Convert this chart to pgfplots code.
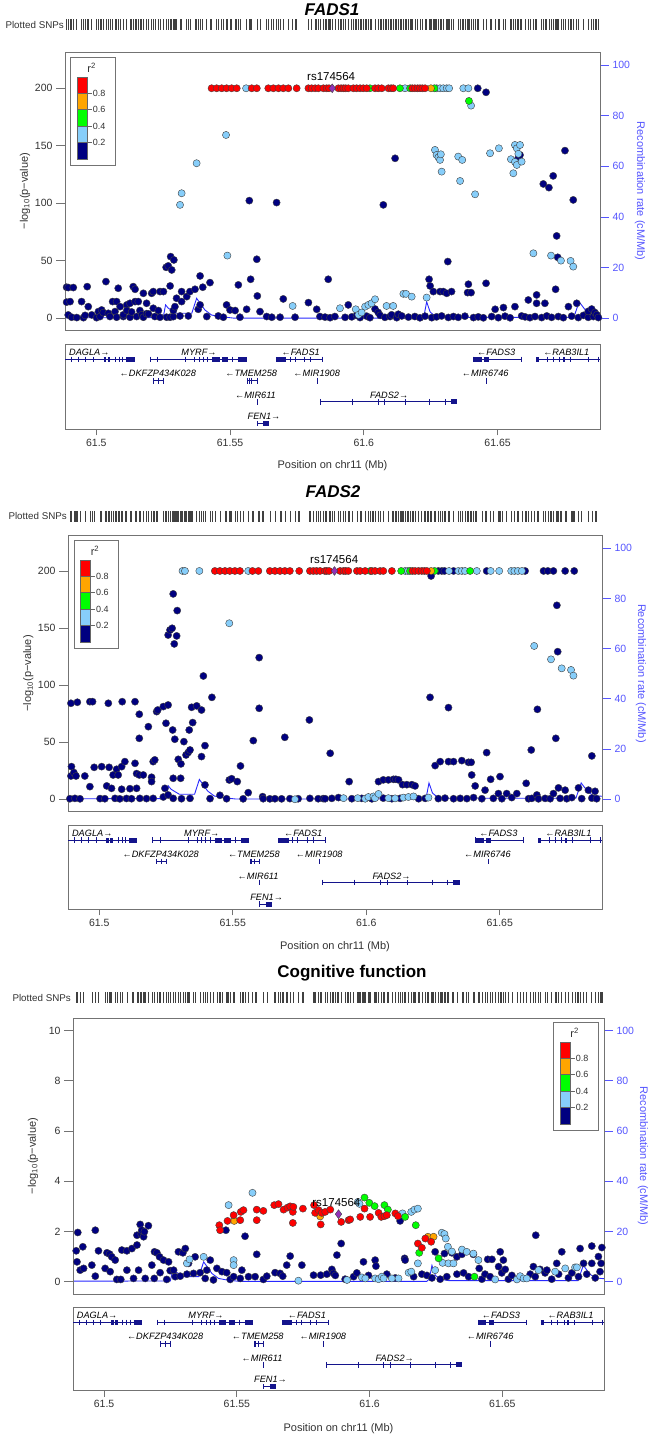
\documentclass[border=0pt]{standalone}
\usepackage{fontspec}
\setmainfont{Liberation Sans}
\usepackage{pgfplots}
\usepackage{pgfplotstable}
\pgfplotsset{compat=1.18}

\definecolor{ldnavy}{RGB}{0,0,128}
\definecolor{ldblue}{RGB}{135,206,250}
\definecolor{ldgreen}{RGB}{0,255,0}
\definecolor{ldorange}{RGB}{255,165,0}
\definecolor{ldred}{RGB}{255,0,0}
\definecolor{leadpurple}{RGB}{145,50,185}
\definecolor{recblue}{RGB}{40,40,255}
\definecolor{raxis}{RGB}{85,85,255}
\definecolor{framegray}{RGB}{115,115,115}
\definecolor{genecol}{RGB}{20,20,140}
\definecolor{ticktext}{RGB}{50,50,50}

\pgfplotsset{
  locus/.style={scale only axis, xmin=61.4883, xmax=61.6883,
    /pgf/number format/assume math mode=true},
  assoc/.style={locus, clip mode=individual,
    axis line style={framegray, line width=0.9pt},
    xtick=\empty, ytick pos=left, tick align=outside, major tick length=9pt,
    every tick/.style={framegray, line width=0.8pt},
    yticklabel style={font=\fontsize{10.5}{12}\selectfont, text=ticktext}},
  recomb/.style={locus, hide x axis, axis y line*=right,
    y axis line style={draw=none},
    ytick={0,20,...,100}, tick align=outside, major tick length=9pt,
    every tick/.style={raxis, line width=0.8pt},
    yticklabel style={font=\fontsize{10.5}{12}\selectfont, text=raxis}},
  genes/.style={locus, clip mode=individual, ymin=0, y dir=reverse,
    axis line style={framegray, line width=0.9pt},
    ytick=\empty, xtick={61.5,61.55,61.6,61.65},
    xticklabels={61.5,61.55,61.6,61.65}, xtick pos=bottom,
    tick align=outside, major tick length=6pt,
    every tick/.style={framegray, line width=0.8pt},
    xticklabel style={font=\fontsize{10.5}{12}\selectfont, text=ticktext}},
  rug/.style={locus, hide axis, ymin=-1, ymax=1, height=12pt},
  snp/.style={only marks, mark=*, mark size=3.6pt,
    mark options={draw=black!75, line width=0.4pt, fill=#1}},
  lead/.style={only marks, mark=diamond*, mark size=4.4pt,
    mark options={draw=black!75, line width=0.4pt, fill=leadpurple}},
  rugmark/.style={only marks, mark=|, mark size=5.5pt,
    mark options={line width=0.6pt, draw=black!75}},
  gline/.style={genecol, line width=0.8pt, forget plot},
  gblock/.style={genecol, line width=5pt, line cap=butt, forget plot},
  gexon/.style={genecol, only marks, mark=|, mark size=2.8pt,
    mark options={line width=1pt}, forget plot},
}
\tikzset{glabel/.style={font=\fontsize{9.2}{10}\selectfont\itshape, inner sep=0pt},
  snplabel/.style={font=\fontsize{11.5}{12}\selectfont, yshift=11.5pt}}

% recombination rate (cM/Mb), shared by all three regions
\pgfplotstableread{
pos rate
61.4883 0.2
61.5250 0.3
61.5259 5.3
61.5269 4.0
61.5300 2.0
61.5357 2.0
61.5375 7.9
61.5388 6.0
61.5406 3.3
61.5431 1.3
61.5462 0.7
61.5512 0.1
61.6215 0.1
61.6225 1.0
61.6235 6.5
61.6248 2.5
61.6265 1.0
61.6300 0.4
61.6785 0.4
61.6805 6.5
61.6830 3.0
61.6850 1.5
61.6883 1.2
}\recomb

% ---------------- FADS1 ----------------
\pgfplotstableread{
pos v
61.4889 27.0
61.4889 14.0
61.4895 26.7
61.4902 14.5
61.4895 2.9
61.4908 0.9
61.4914 26.7
61.4927 0.6
61.4945 14.5
61.4952 0.5
61.4958 2.5
61.4966 27.5
61.4970 10.1
61.4983 2.9
61.5001 0.5
61.5008 5.8
61.5014 1.5
61.5020 7.2
61.5026 4.9
61.5036 31.9
61.5045 4.3
61.5051 1.5
61.5061 14.5
61.5070 5.8
61.5076 14.5
61.5076 0.9
61.5082 26.1
61.5089 10.1
61.5101 1.5
61.5101 3.0
61.5114 11.6
61.5114 6.7
61.5126 13.0
61.5126 0.9
61.5132 5.5
61.5138 27.5
61.5145 25.2
61.5145 14.5
61.5151 1.5
61.5157 14.5
61.5163 6.7
61.5170 3.0
61.5176 21.7
61.5176 0.9
61.5188 13.0
61.5188 4.0
61.5195 3.8
61.5207 21.7
61.5213 23.2
61.5213 8.7
61.5219 1.5
61.5232 6.7
61.5238 23.2
61.5238 0.9
61.5251 23.2
61.5261 44.3
61.5263 0.9
61.5269 45.5
61.5276 28.1
61.5276 0.9
61.5278 53.6
61.5282 42.0
61.5288 1.4
61.5288 6.7
61.5290 50.7
61.5294 10.1
61.5300 17.4
61.5313 2.0
61.5319 23.2
61.5319 14.5
61.5338 18.8
61.5344 2.0
61.5350 23.2
61.5369 25.2
61.5381 7.8
61.5388 36.8
61.5388 11.6
61.5398 27.0
61.5413 1.5
61.5425 31.0
61.5456 2.0
61.5475 0.9
61.5487 11.6
61.5500 7.2
61.5519 6.7
61.5531 29.0
61.5537 0.9
61.5562 7.8
61.5572 102.3
61.5577 33.9
61.5600 51.3
61.5602 19.4
61.5612 5.8
61.5637 1.5
61.5656 0.9
61.5674 100.6
61.5687 0.9
61.5699 16.8
61.5743 0.9
61.5793 13.6
61.5824 7.8
61.5836 1.5
61.5855 1.0
61.5867 33.9
61.5874 0.5
61.5892 1.5
61.5930 0.8
61.5942 11.6
61.5955 1.2
61.5973 2.5
61.5986 0.6
61.6011 1.8
61.6023 0.5
61.6042 8.0
61.6054 5.0
61.6061 2.5
61.6073 98.6
61.6079 0.8
61.6098 1.5
61.6104 3.0
61.6117 139.1
61.6123 0.5
61.6129 3.5
61.6142 2.0
61.6167 1.0
61.6191 1.5
61.6210 0.4
61.6229 1.8
61.6244 33.9
61.6248 28.1
61.6254 0.5
61.6260 23.2
61.6272 1.2
61.6285 23.2
61.6291 2.0
61.6297 23.2
61.6310 21.7
61.6314 49.3
61.6316 0.7
61.6328 23.2
61.6335 1.5
61.6353 0.8
61.6378 1.8
61.6388 22.3
61.6391 29.6
61.6401 22.3
61.6410 0.6
61.6426 200
61.6428 1.2
61.6447 0.4
61.6457 196.5
61.6457 30.4
61.6478 1.5
61.6491 7.8
61.6503 0.5
61.6522 9.3
61.6528 1.8
61.6547 0.4
61.6565 10.1
61.6577 139.1
61.6584 142.0
61.6590 2.0
61.6603 1.2
61.6615 15.9
61.6621 0.5
61.6640 1.5
61.6646 20.3
61.6646 13.0
61.6665 0.6
61.6671 116.8
61.6677 13.0
61.6684 2.0
61.6692 113.6
61.6702 0.8
61.6708 123.8
61.6717 25.2
61.6721 71.6
61.6725 53.0
61.6727 1.5
61.6746 0.5
61.6752 145.8
61.6765 10.1
61.6777 1.8
61.6783 102.9
61.6796 13.0
61.6802 0.6
61.6821 2.5
61.6839 0.8
61.6839 6.0
61.6852 8.0
61.6858 1.5
61.6864 5.0
61.6871 3.0
61.6877 0.6
}\Anavy
\pgfplotstableread{
pos v
61.5313 98.6
61.5319 108.7
61.5375 134.8
61.5485 159.4
61.5490 54.5
61.5560 200
61.5734 10.7
61.5911 8.7
61.5970 7.8
61.5980 3.0
61.5992 5.0
61.6005 10.1
61.6017 11.6
61.6029 13.0
61.6042 16.5
61.6085 10.7
61.6110 10.7
61.6148 21.2
61.6154 200
61.6158 21.2
61.6179 18.8
61.6235 18.0
61.6266 146.4
61.6272 142.0
61.6272 200
61.6279 140.0
61.6285 137.7
61.6285 200
61.6288 142.6
61.6291 127.5
61.6297 200
61.6310 200
61.6319 200
61.6353 140.6
61.6360 119.4
61.6368 137.7
61.6372 200
61.6391 200
61.6401 184.9
61.6416 107.8
61.6472 143.5
61.6505 147.8
61.6550 138.3
61.6559 126.1
61.6565 150.7
61.6565 136.0
61.6572 147.8
61.6572 133.3
61.6578 143.0
61.6584 150.7
61.6590 136.2
61.6634 56.5
61.6700 54.5
61.6737 50.1
61.6773 49.9
61.6783 44.9
}\Ablue
\pgfplotstableread{
pos v
61.6023 200
61.6135 200
61.6173 200
61.6264 200
61.6393 189
}\Agreen
\pgfplotstableread{
pos v
61.6251 200
}\Aorange
\pgfplotstableread{
pos v
61.5431 200
61.5450 200
61.5469 200
61.5487 200
61.5506 200
61.5525 200
61.5581 200
61.5600 200
61.5643 200
61.5662 200
61.5681 200
61.5699 200
61.5718 200
61.5749 200
61.5793 200
61.5805 200
61.5818 200
61.5830 200
61.5849 200
61.5861 200
61.5870 200
61.5905 200
61.5915 200
61.5924 200
61.5932 200
61.5942 200
61.5961 200
61.5973 200
61.5986 200
61.5998 200
61.6011 200
61.6042 200
61.6054 200
61.6067 200
61.6092 200
61.6102 200
61.6110 200
61.6181 200
61.6191 200
61.6201 200
61.6210 200
61.6219 200
61.6229 200
}\Ared
\pgfplotstableread{
pos v
61.5882 200
}\Alead

% ---------------- FADS2 ----------------
\pgfplotstableread{
pos v
61.4890 0.5
61.4894 84.1
61.4894 20.4
61.4896 28.6
61.4905 23.4
61.4909 0.8
61.4913 20.4
61.4918 85.0
61.4928 0.4
61.4946 20.4
61.4965 85.5
61.4965 11.1
61.4975 85.5
61.4981 28.0
61.5003 0.6
61.5009 28.6
61.5021 0.5
61.5028 11.7
61.5034 84.1
61.5037 28.0
61.5046 9.6
61.5052 21.3
61.5059 0.8
61.5065 26.3
61.5071 21.3
61.5077 0.4
61.5084 28.6
61.5084 8.8
61.5086 85.5
61.5096 33.0
61.5102 0.7
61.5115 9.3
61.5121 0.5
61.5134 85.5
61.5134 31.5
61.5140 22.5
61.5140 9.6
61.5150 74.5
61.5150 53.4
61.5150 21.3
61.5152 0.8
61.5165 21.3
61.5177 0.6
61.5184 63.6
61.5196 19.3
61.5196 15.5
61.5202 33.0
61.5202 0.8
61.5208 34.5
61.5215 76.8
61.5219 78.2
61.5240 81.2
61.5240 2.0
61.5246 9.6
61.5250 66.6
61.5258 82.6
61.5258 143.9
61.5258 3.8
61.5265 148.3
61.5273 149.8
61.5275 60.7
61.5277 179.9
61.5277 18.4
61.5277 0.8
61.5281 136.1
61.5283 52.6
61.5290 143.1
61.5292 165.3
61.5296 35.0
61.5305 18.4
61.5306 31.0
61.5308 0.5
61.5317 50.5
61.5325 38.8
61.5333 41.0
61.5337 60.7
61.5340 43.2
61.5340 0.8
61.5346 80.6
61.5350 67.2
61.5365 81.8
61.5383 78.2
61.5383 37.4
61.5390 108.0
61.5396 47.0
61.5396 12.6
61.5415 0.6
61.5422 89.3
61.5452 3.5
61.5477 0.5
61.5487 16.9
61.5496 18.0
61.5517 15.5
61.5529 29.2
61.5539 0.4
61.5558 5.8
61.5577 51.4
61.5599 79.7
61.5599 124.1
61.5612 2.3
61.5614 0.5
61.5639 0.4
61.5658 0.5
61.5683 0.4
61.5695 54.3
61.5714 0.6
61.5745 0.5
61.5787 69.5
61.5789 0.8
61.5820 0.5
61.5839 0.6
61.5846 0.5
61.5865 40.3
61.5871 0.8
61.5896 1.5
61.5936 15.5
61.5946 0.5
61.5983 0.8
61.6021 0.4
61.6046 15.5
61.6064 17.0
61.6064 1.0
61.6083 17.0
61.6096 0.5
61.6102 17.5
61.6111 17.5
61.6121 17.0
61.6127 0.8
61.6136 12.8
61.6152 12.8
61.6171 12.8
61.6183 11.7
61.6196 0.5
61.6221 0.8
61.6239 89.3
61.6243 195.6
61.6258 29.5
61.6270 200
61.6270 0.6
61.6277 33.0
61.6283 200
61.6293 200
61.6295 1.0
61.6308 80.3
61.6308 33.0
61.6327 200
61.6327 33.0
61.6327 0.5
61.6352 0.8
61.6358 33.9
61.6377 0.6
61.6383 32.4
61.6393 32.4
61.6395 21.3
61.6402 1.5
61.6408 11.7
61.6433 0.5
61.6445 8.0
61.6451 200
61.6451 40.9
61.6466 17.5
61.6476 0.8
61.6495 5.0
61.6501 19.9
61.6508 0.5
61.6526 5.0
61.6545 1.5
61.6564 5.0
61.6595 200
61.6599 14.0
61.6608 0.5
61.6618 43.2
61.6620 0.8
61.6639 3.8
61.6641 78.8
61.6645 0.4
61.6664 200
61.6670 0.8
61.6680 200
61.6689 0.5
61.6701 200
61.6701 5.0
61.6710 53.4
61.6714 169.9
61.6717 129.3
61.6720 10.0
61.6726 0.8
61.6745 200
61.6745 8.0
61.6751 0.5
61.6770 1.5
61.6779 200
61.6795 10.0
61.6807 0.6
61.6832 8.0
61.6845 38.0
61.6845 1.0
61.6857 7.0
61.6863 0.5
}\Bnavy
\pgfplotstableread{
pos v
61.5312 200
61.5321 200
61.5375 200
61.5487 154.2
61.5558 200
61.5733 0.0
61.5915 1.0
61.5968 1.0
61.5996 0.5
61.6008 2.0
61.6027 2.5
61.6033 1.0
61.6046 4.7
61.6083 1.0
61.6108 0.8
61.6139 1.5
61.6146 200
61.6156 200
61.6158 2.0
61.6177 2.5
61.6233 1.5
61.6310 200
61.6345 200
61.6358 200
61.6370 200
61.6414 200
61.6466 200
61.6498 200
61.6543 200
61.6555 200
61.6568 200
61.6583 200
61.6629 134.3
61.6692 122.6
61.6732 114.7
61.6767 113.3
61.6776 108.3
}\Bblue
\pgfplotstableread{
pos v
61.6015 200
61.6131 200
61.6164 200
61.6256 200
61.6389 200
}\Bgreen
\pgfplotstableread{
pos v
61.6243 200
}\Borange
\pgfplotstableread{
pos v
61.5433 200
61.5452 200
61.5471 200
61.5489 200
61.5508 200
61.5527 200
61.5574 200
61.5596 200
61.5639 200
61.5658 200
61.5677 200
61.5695 200
61.5714 200
61.5749 200
61.5789 200
61.5802 200
61.5814 200
61.5827 200
61.5845 200
61.5852 200
61.5861 200
61.5902 200
61.5915 200
61.5923 200
61.5933 200
61.5965 200
61.5977 200
61.5996 200
61.6021 200
61.6033 200
61.6052 200
61.6064 200
61.6096 200
61.6173 200
61.6183 200
61.6196 200
61.6208 200
61.6218 200
61.6227 200
}\Bred
\pgfplotstableread{
pos v
61.5881 200
}\Blead

% ---------------- Cognitive function ----------------
\pgfplotstableread{
pos v
61.4895 1.23
61.4898 0.79
61.4901 1.96
61.4910 0.46
61.4920 1.39
61.4923 0.53
61.4954 0.66
61.4967 2.05
61.4967 0.22
61.4979 1.23
61.5004 0.53
61.5011 1.15
61.5021 1.10
61.5023 0.40
61.5029 0.99
61.5042 0.86
61.5048 0.09
61.5063 0.09
61.5067 1.26
61.5086 1.23
61.5086 0.46
61.5105 1.32
61.5111 0.13
61.5124 1.46
61.5124 1.85
61.5130 0.46
61.5136 2.28
61.5140 1.90
61.5142 2.05
61.5149 1.79
61.5152 1.99
61.5155 0.13
61.5167 2.23
61.5180 0.66
61.5189 0.13
61.5190 1.19
61.5199 1.15
61.5209 0.99
61.5211 0.36
61.5224 0.86
61.5236 0.09
61.5243 0.79
61.5249 0.44
61.5262 0.46
61.5268 0.20
61.5280 1.19
61.5287 0.22
61.5297 1.15
61.5306 1.32
61.5312 0.30
61.5318 0.73
61.5337 0.33
61.5343 0.99
61.5362 0.36
61.5381 0.13
61.5387 0.46
61.5400 0.86
61.5412 0.07
61.5425 0.53
61.5444 0.40
61.5459 2.05
61.5462 0.36
61.5475 0.09
61.5488 0.20
61.5513 0.13
61.5519 0.46
61.5531 1.81
61.5544 0.20
61.5569 0.20
61.5575 1.09
61.5600 0.09
61.5613 0.22
61.5644 0.36
61.5663 0.33
61.5673 0.22
61.5688 0.66
61.5701 1.02
61.5745 0.66
61.5789 0.26
61.5816 0.26
61.5839 0.30
61.5858 0.49
61.5864 0.33
61.5871 0.25
61.5877 1.06
61.5893 1.52
61.5908 0.10
61.5940 0.20
61.5952 0.35
61.5977 0.79
61.5996 0.25
61.6021 0.86
61.6024 0.62
61.6065 0.30
61.6097 0.15
61.6115 2.42
61.6132 0.93
61.6134 0.86
61.6166 0.20
61.6197 0.30
61.6216 0.25
61.6235 0.15
61.6247 1.19
61.6266 0.10
61.6282 1.12
61.6291 0.20
61.6310 1.15
61.6329 0.99
61.6329 0.30
61.6348 1.09
61.6354 0.35
61.6373 0.20
61.6391 1.09
61.6413 0.53
61.6423 0.10
61.6435 0.30
61.6445 0.89
61.6454 0.20
61.6461 0.89
61.6486 0.60
61.6492 1.19
61.6498 0.35
61.6504 0.86
61.6511 0.49
61.6523 0.10
61.6536 0.25
61.6605 0.30
61.6617 0.60
61.6624 0.20
61.6626 1.85
61.6642 0.49
61.6661 0.35
61.6668 0.46
61.6686 0.10
61.6705 0.73
61.6712 0.30
61.6724 1.19
61.6749 0.15
61.6762 0.35
61.6787 0.20
61.6793 1.32
61.6806 0.73
61.6818 0.30
61.6837 1.42
61.6837 0.73
61.6850 0.15
61.6862 1.00
61.6868 0.40
61.6872 0.73
61.6875 1.36
}\Cnavy
\pgfplotstableread{
pos v
61.5312 0.73
61.5322 0.89
61.5375 0.99
61.5469 3.05
61.5488 0.86
61.5488 0.66
61.5559 3.54
61.5732 0.04
61.5915 0.07
61.5956 3.18
61.5962 3.10
61.5971 0.17
61.5984 0.13
61.6021 0.13
61.6034 0.10
61.6046 0.20
61.6053 0.13
61.6084 0.13
61.6109 0.13
61.6124 2.72
61.6147 0.36
61.6157 2.78
61.6157 0.40
61.6169 2.87
61.6182 2.91
61.6182 0.73
61.6247 0.46
61.6272 1.95
61.6275 0.75
61.6282 1.90
61.6287 1.72
61.6295 1.39
61.6297 0.73
61.6310 1.20
61.6316 0.73
61.6348 1.28
61.6366 1.19
61.6391 1.12
61.6410 0.86
61.6473 0.09
61.6555 0.09
61.6567 0.22
61.6580 0.13
61.6592 0.13
61.6636 0.46
61.6699 0.40
61.6737 0.53
61.6774 0.57
61.6781 0.57
}\Cblue
\pgfplotstableread{
pos v
61.5981 3.35
61.5999 3.14
61.6019 3.01
61.6056 3.05
61.6069 2.87
61.6134 2.58
61.6174 2.25
61.6187 1.15
61.6260 0.93
61.6395 0.20
}\Cgreen
\pgfplotstableread{
pos v
61.5490 2.42
61.5814 2.60
61.6220 1.79
61.6241 1.79
}\Corange
\pgfplotstableread{
pos v
61.5434 2.25
61.5437 2.05
61.5465 2.42
61.5488 2.65
61.5513 2.45
61.5515 2.78
61.5525 2.85
61.5575 2.87
61.5575 2.45
61.5600 2.82
61.5641 3.05
61.5657 3.09
61.5676 2.87
61.5691 2.95
61.5701 3.00
61.5711 2.78
61.5713 2.98
61.5711 2.34
61.5749 2.91
61.5791 3.05
61.5795 2.74
61.5808 2.85
61.5820 2.74
61.5816 2.28
61.5833 2.78
61.5852 2.87
61.5893 2.38
61.5921 2.45
61.5927 2.48
61.5965 2.58
61.5981 2.91
61.6002 2.58
61.6034 2.74
61.6044 2.58
61.6056 2.61
61.6065 2.65
61.6097 2.72
61.6107 2.61
61.6182 1.52
61.6197 1.35
61.6210 1.72
61.6232 1.59
}\Cred
\pgfplotstableread{
pos v
61.5883 2.69
}\Clead

% gene models; y is measured in pt from the top of the gene box
\newcommand{\genetrack}{%
  % row 1
  \addplot[gline] coordinates {(61.4883,15.2) (61.5143,15.2)};
  \addplot[gexon] coordinates {(61.4906,15.2) (61.4934,15.2) (61.4961,15.2) (61.4988,15.2) (61.5071,15.2) (61.5086,15.2) (61.5098,15.2)};
  \addplot[gblock] coordinates {(61.5027,15.2) (61.5036,15.2)};
  \addplot[gblock] coordinates {(61.5042,15.2) (61.5051,15.2)};
  \addplot[gblock] coordinates {(61.5112,15.2) (61.5143,15.2)};
  \addplot[gline] coordinates {(61.5201,15.2) (61.5562,15.2)};
  \addplot[gexon] coordinates {(61.5201,15.2) (61.5229,15.2) (61.5333,15.2) (61.5368,15.2) (61.5384,15.2) (61.5399,15.2) (61.5415,15.2) (61.5511,15.2)};
  \addplot[gblock] coordinates {(61.5433,15.2) (61.5461,15.2)};
  \addplot[gblock] coordinates {(61.5469,15.2) (61.5492,15.2)};
  \addplot[gblock] coordinates {(61.5531,15.2) (61.5562,15.2)};
  \addplot[gline] coordinates {(61.5671,15.2) (61.5846,15.2)};
  \addplot[gblock] coordinates {(61.5671,15.2) (61.5709,15.2)};
  \addplot[gexon] coordinates {(61.5725,15.2) (61.5743,15.2) (61.5779,15.2) (61.5802,15.2) (61.5846,15.2)};
  \addplot[gline] coordinates {(61.6410,15.2) (61.6590,15.2)};
  \addplot[gblock] coordinates {(61.6410,15.2) (61.6440,15.2)};
  \addplot[gblock] coordinates {(61.6448,15.2) (61.6468,15.2)};
  \addplot[gexon] coordinates {(61.6410,15.2) (61.6590,15.2)};
  \addplot[gline] coordinates {(61.6644,15.2) (61.6883,15.2)};
  \addplot[gblock] coordinates {(61.6644,15.2) (61.6656,15.2)};
  \addplot[gblock] coordinates {(61.6745,15.2) (61.6753,15.2)};
  \addplot[gexon] coordinates {(61.6686,15.2) (61.6709,15.2) (61.6733,15.2) (61.6771,15.2) (61.6841,15.2) (61.6876,15.2)};
  % row 2
  \addplot[gline] coordinates {(61.5213,36.5) (61.5252,36.5)};
  \addplot[gexon] coordinates {(61.5213,36.5) (61.5232,36.5) (61.5252,36.5)};
  \addplot[gline] coordinates {(61.5565,36.5) (61.5601,36.5)};
  \addplot[gexon] coordinates {(61.5565,36.5) (61.5572,36.5) (61.5580,36.5) (61.5601,36.5)};
  \addplot[gexon] coordinates {(61.5826,36.5)};
  \addplot[gexon] coordinates {(61.6457,36.5)};
  % row 3
  \addplot[gexon] coordinates {(61.5601,57.5)};
  \addplot[gline] coordinates {(61.5838,57.5) (61.6350,57.5)};
  \addplot[gexon] coordinates {(61.5838,57.5) (61.5957,57.5) (61.6054,57.5) (61.6078,57.5) (61.6156,57.5) (61.6247,57.5) (61.6306,57.5)};
  \addplot[gblock] coordinates {(61.6326,57.5) (61.6350,57.5)};
  % row 4
  \addplot[gline] coordinates {(61.5601,79.3) (61.5647,79.3)};
  \addplot[gexon] coordinates {(61.5601,79.3)};
  \addplot[gblock] coordinates {(61.5624,79.3) (61.5647,79.3)};
  % names
  \node[glabel] at (axis cs:61.4974,8.3) {DAGLA→};
  \node[glabel] at (axis cs:61.5384,8.3) {MYRF→};
  \node[glabel] at (axis cs:61.5764,8.3) {←FADS1};
  \node[glabel] at (axis cs:61.6495,8.3) {←FADS3};
  \node[glabel] at (axis cs:61.6757,8.3) {←RAB3IL1};
  \node[glabel] at (axis cs:61.5230,29.3) {←DKFZP434K028};
  \node[glabel] at (axis cs:61.5579,29.3) {←TMEM258};
  \node[glabel] at (axis cs:61.5824,29.3) {←MIR1908};
  \node[glabel] at (axis cs:61.6454,29.3) {←MIR6746};
  \node[glabel] at (axis cs:61.5595,51) {←MIR611};
  \node[glabel] at (axis cs:61.6095,51) {FADS2→};
  \node[glabel] at (axis cs:61.5627,72.4) {FEN1→};
}

% r^2 colour key; arguments are the top-left corner of its box
\newcommand{\ldlegend}[2]{%
  \begin{scope}[shift={(#1,#2)}]
    \draw[framegray, line width=0.8pt, fill=white] (0,0) rectangle (44.3,-107.3);
    \foreach \c [count=\i from 0] in {ldred,ldorange,ldgreen,ldblue,ldnavy} {
      \fill[\c, draw=black!60, line width=0.3pt] (6,{-19-16.46*\i}) rectangle (16.6,{-19-16.46*(\i+1)});
    }
    \foreach \lab [count=\i] in {0.8,0.6,0.4,0.2} {
      \draw[black!60, line width=0.5pt] (16.6,{-19-16.46*\i}) -- (21,{-19-16.46*\i});
      \node[anchor=west, inner sep=0.5pt, font=\fontsize{9}{10}\selectfont, text=ticktext] at (21.5,{-19-16.46*\i}) {\lab};
    }
    \node[font=\fontsize{11}{12}\selectfont, text=ticktext] at (21,-10) {r\textsuperscript{2}};
  \end{scope}}

\newcommand{\snpset}[6]{%
  \addplot[snp=ldnavy] table[x=pos,y=v] {#1};
  \addplot[snp=ldblue] table[x=pos,y=v] {#2};
  \addplot[snp=ldgreen] table[x=pos,y=v] {#3};
  \addplot[snp=ldorange] table[x=pos,y=v] {#4};
  \addplot[snp=ldred] table[x=pos,y=v] {#5};
  \addplot[lead] table[x=pos,y=v] {#6};}
\newcommand{\rugset}[6]{%
  \addplot[rugmark] table[x=pos,y expr=0] {#1};
  \addplot[rugmark] table[x=pos,y expr=0] {#2};
  \addplot[rugmark] table[x=pos,y expr=0] {#3};
  \addplot[rugmark] table[x=pos,y expr=0] {#4};
  \addplot[rugmark] table[x=pos,y expr=0] {#5};
  \addplot[rugmark] table[x=pos,y expr=0] {#6};}

\begin{document}
\begin{tikzpicture}[x=1pt, y=1pt]
\useasboundingbox (0,0) rectangle (650,1437);

% ================= FADS1 =================
\begin{axis}[rug, at={(65pt,1406pt)}, anchor=south west, width=535pt]
  \rugset{\Anavy}{\Ablue}{\Agreen}{\Aorange}{\Ared}{\Alead}
\end{axis}
\begin{axis}[recomb, at={(65pt,1107pt)}, anchor=south west, width=535pt, height=277.7pt, ymin=-4.6, ymax=105]
  \addplot[recblue, line width=0.9pt] table[x=pos,y=rate] {\recomb};
\end{axis}
\begin{axis}[assoc, at={(65pt,1107pt)}, anchor=south west, width=535pt, height=277.7pt,
  ymin=-10.2, ymax=231.3, ytick={0,50,...,200}]
  \snpset{\Anavy}{\Ablue}{\Agreen}{\Aorange}{\Ared}{\Alead}
  \node[snplabel] at (axis cs:61.5878,200) {rs174564};
\end{axis}
\begin{axis}[genes, at={(65pt,1007.7pt)}, anchor=south west, width=535pt, height=85pt, ymax=85]
  \genetrack
\end{axis}
\ldlegend{70.7}{1379.3}
\node[font=\fontsize{17}{18}\selectfont\bfseries\itshape] at (332,1427.7) {FADS1};
\node[anchor=west, font=\fontsize{9.8}{11}\selectfont, text=ticktext] at (2,1411.8) {Plotted SNPs};
\node[rotate=90, font=\fontsize{11}{13}\selectfont, text=ticktext] at (25,1246) {−log\textsubscript{10}(p−value)};
\node[rotate=-90, font=\fontsize{11}{13}\selectfont, text=raxis] at (640,1246) {Recombination rate (cM/Mb)};
\node[font=\fontsize{11}{13}\selectfont, text=ticktext] at (332.5,971.3) {Position on chr11 (Mb)};

% ================= FADS2 =================
\begin{axis}[rug, at={(68pt,914.5pt)}, anchor=south west, width=534pt]
  \rugset{\Bnavy}{\Bblue}{\Bgreen}{\Borange}{\Bred}{\Blead}
\end{axis}
\begin{axis}[recomb, at={(68pt,626pt)}, anchor=south west, width=534pt, height=275.3pt, ymin=-4.66, ymax=105]
  \addplot[recblue, line width=0.9pt] table[x=pos,y=rate] {\recomb};
\end{axis}
\begin{axis}[assoc, at={(68pt,626pt)}, anchor=south west, width=534pt, height=275.3pt,
  ymin=-10.25, ymax=230.9, ytick={0,50,...,200}]
  \snpset{\Bnavy}{\Bblue}{\Bgreen}{\Borange}{\Bred}{\Blead}
  \node[snplabel] at (axis cs:61.5880,200) {rs174564};
\end{axis}
\begin{axis}[genes, at={(68pt,527.7pt)}, anchor=south west, width=534pt, height=84.3pt, ymax=84.3]
  \genetrack
\end{axis}
\ldlegend{74}{896.3}
\node[font=\fontsize{17}{18}\selectfont\bfseries\itshape] at (333,945.3) {FADS2};
\node[anchor=west, font=\fontsize{9.8}{11}\selectfont, text=ticktext] at (5,920.5) {Plotted SNPs};
\node[rotate=90, font=\fontsize{11}{13}\selectfont, text=ticktext] at (28.3,763.6) {−log\textsubscript{10}(p−value)};
\node[rotate=-90, font=\fontsize{11}{13}\selectfont, text=raxis] at (641,763.6) {Recombination rate (cM/Mb)};
\node[font=\fontsize{11}{13}\selectfont, text=ticktext] at (335,490.3) {Position on chr11 (Mb)};

% ================= Cognitive function =================
\begin{axis}[rug, at={(73pt,433pt)}, anchor=south west, width=531pt]
  \rugset{\Cnavy}{\Cblue}{\Cgreen}{\Corange}{\Cred}{\Clead}
\end{axis}
\begin{axis}[recomb, at={(73pt,143pt)}, anchor=south west, width=531pt, height=275.7pt, ymin=-4.9, ymax=104.9]
  \addplot[recblue, line width=0.9pt] table[x=pos,y=rate] {\recomb};
\end{axis}
\begin{axis}[assoc, at={(73pt,143pt)}, anchor=south west, width=531pt, height=275.7pt,
  ymin=-0.49, ymax=10.49, ytick={0,2,...,10}]
  \snpset{\Cnavy}{\Cblue}{\Cgreen}{\Corange}{\Cred}{\Clead}
  \node[snplabel] at (axis cs:61.5875,2.69) {rs174564};
\end{axis}
\begin{axis}[genes, at={(73pt,46.3pt)}, anchor=south west, width=531pt, height=83.4pt, ymax=83.4]
  \genetrack
\end{axis}
\ldlegend{553.7}{414.3}
\node[font=\fontsize{17}{18}\selectfont\bfseries] at (352,464.3) {Cognitive function};
\node[anchor=west, font=\fontsize{9.8}{11}\selectfont, text=ticktext] at (9,439) {Plotted SNPs};
\node[rotate=90, font=\fontsize{11}{13}\selectfont, text=ticktext] at (33,281) {−log\textsubscript{10}(p−value)};
\node[rotate=-90, font=\fontsize{11}{13}\selectfont, text=raxis] at (643,281) {Recombination rate (cM/Mb)};
\node[font=\fontsize{11}{13}\selectfont, text=ticktext] at (338.5,8.7) {Position on chr11 (Mb)};
\end{tikzpicture}
\end{document}
